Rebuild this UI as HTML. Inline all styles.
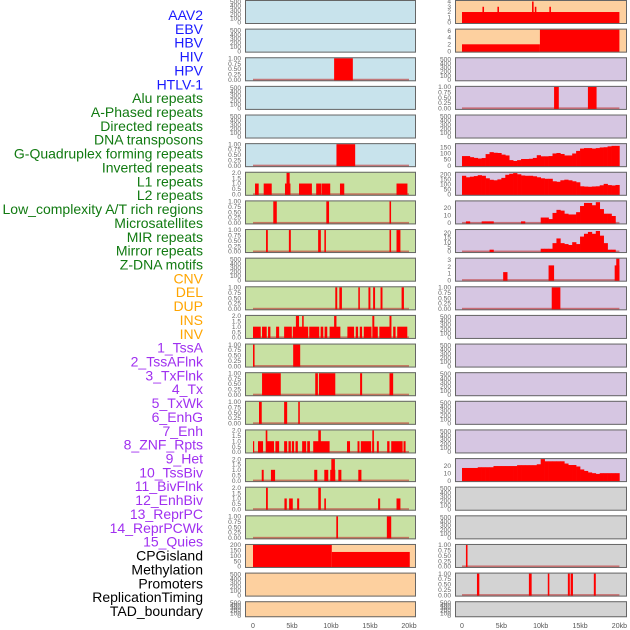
<!DOCTYPE html>
<html><head><meta charset="utf-8">
<style>
html,body{margin:0;padding:0;background:#fff;}
svg{display:block;font-family:"Liberation Sans",sans-serif;}
</style></head>
<body>
<svg id="chart" width="630" height="630" viewBox="0 0 630 630"></svg>
<script>
// ---------- data ----------
const trackLabels = ["AAV2","EBV","HBV","HIV","HPV","HTLV-1","Alu repeats","A-Phased repeats","Directed repeats","DNA transposons","G-Quadruplex forming repeats","Inverted repeats","L1 repeats","L2 repeats","Low_complexity A/T rich regions","Microsatellites","MIR repeats","Mirror repeats","Z-DNA motifs","CNV","DEL","DUP","INS","INV","1_TssA","2_TssAFlnk","3_TxFlnk","4_Tx","5_TxWk","6_EnhG","7_Enh","8_ZNF_Rpts","9_Het","10_TssBiv","11_BivFlnk","12_EnhBiv","13_ReprPC","14_ReprPCWk","15_Quies","CPGisland","Methylation","Promoters","ReplicationTiming","TAD_boundary"];
const labelGroups = [6,13,5,15,5];
const xTickLabels = ["0","5kb","10kb","15kb","20kb"];
const xTickValues = [0,5,10,15,20];

// left column segments [startKb, endKb, value]
const L3 = [[10.4,12.8,1]];
const L6 = [[10.7,13.1,1]];
const L7 = [[0.26,0.73,1],[1.37,2.4,1],[4.1,4.8,1],[4.3,4.7,2],[5.9,7.55,1],[8.1,8.75,1],[8.8,9.9,1],[11.15,11.7,1],[18.4,19.8,1]];
const L8 = [[2.6,3.05,1],[9.4,9.75,1],[17.5,17.7,1]];
const L9 = [[1.67,1.9,1],[4.6,4.85,1],[8.35,8.7,1],[9.15,9.35,1],[17.5,17.7,1],[18.4,18.9,1]];
const L11 = [[10.55,10.8,1],[11.07,11.4,1],[13.5,13.7,1],[14.8,15.05,1],[15.4,15.65,1],[16.35,16.6,1],[19.05,19.35,1]];
const L12 = [[0,0.99,1],[1.16,1.76,1],[1.93,2.23,1],[2.96,3.35,1],[3.99,4.98,1],[5.1,7.08,1],[7.21,8.49,1],[8.67,9.01,1],[9.18,9.52,1],[9.82,11.2,1],[12.1,12.96,1],[13.17,13.47,1],[13.69,13.99,1],[14.2,15.19,1],[15.36,16.0,1],[16.2,17.63,1],[17.97,18.28,1],[18.49,19.78,1],[5.5,5.9,2],[6.3,6.5,2],[10.4,10.7,2],[15.3,15.55,2],[17.5,17.75,2]];
const L13 = [[0,0.2,1],[5.15,6.05,1]];
const L14 = [[1.16,3.56,1],[7.98,8.32,1],[8.45,10.55,1],[13.73,13.99,1],[17.5,17.97,1]];
const L15 = [[0.77,1.12,1],[3.99,4.38,1],[5.8,6.0,1]];
const L16 = [[0,0.13,1],[0.64,1.29,1],[1.67,2.7,1],[2.87,3.35,1],[3.99,4.38,1],[4.55,4.85,1],[4.98,5.27,1],[5.45,5.75,1],[6.3,6.82,1],[6.95,7.3,1],[7.72,9.82,1],[12.05,12.44,1],[13.4,13.65,1],[13.82,15.15,1],[15.28,15.53,1],[15.88,16.13,1],[17.2,17.5,1],[17.72,19.18,1],[19.3,19.56,1],[1.63,1.84,2],[8.37,8.7,2],[15.3,15.5,2]];
const L17 = [[1.12,1.37,1],[2.3,2.83,1],[7.85,8.24,1],[9.14,9.65,1],[9.9,10.55,1],[10.94,11.33,1],[13.5,13.9,1],[10.04,10.5,2]];
const L18 = [[1.67,1.9,2],[8.37,8.7,2],[4.03,4.33,1],[4.63,5.1,1],[5.66,5.92,1],[9.14,9.35,1],[16.04,16.3,1],[18.4,18.9,1]];
const L19 = [[10.68,10.9,1],[17.16,17.72,1]];
const L20 = [[0,10.1,200],[10.1,20.1,135]];

// right column segments
const R1 = [[0,20,2],[2.6,2.8,3],[4.5,4.7,3],[9.25,9.45,3],[11.1,11.3,3],[8.9,9.1,4]];
const R2 = [[0,9.9,2],[9.9,20,6.3]];
const R4 = [[11.7,12.3,1],[16.0,17.1,1]];
const R10 = [[5.23,5.78,1.2],[11.0,11.7,2.2],[19.4,20.0,2.2],[19.6,20.0,3.2]];
const R11 = [[11.4,12.5,1]];
const R20 = [[0.5,0.7,1]];
const R21 = [[1.9,2.2,1],[8.5,8.85,1],[10.9,11.1,1],[13.45,13.7,1],[13.8,14.1,1],[16.75,17.0,1]];

// right column profiles (0.5 kb bins)
const R6 = [78,78,69,63,58,62,94,110,105,103,90,83,45,38,45,54,54,56,63,85,76,76,78,99,103,95,83,83,99,120,139,143,143,139,143,148,150,157,161,161];
const R7 = [185,170,176,182,191,185,160,145,140,149,164,195,205,212,200,188,185,185,180,170,160,155,155,130,125,140,146,140,130,120,80,77,75,78,80,90,104,92,88,93];
const R8 = [0,2,0,0,0,2,2,2,0,0,0,0,0,0,0,2,0,0,0,0,7,7,5,13,17,16,12,11,11,14,22,26,26,23,27,18,12,12,9,0];
const R9 = [0,0,0,0,0,0,0,2,0,0,0,0,0,0,0,0,0,0,0,0,3,3,3,9,14,9,8,7,10,8,16,19,21,19,22,17,9,2,2,0];
const R16 = [17,17,17,17,18,18,18,18,19.6,19.6,19.6,19.6,19.6,19.6,20.8,20.8,20.8,20.8,20.8,22,29,26,26,26,26,26,23,21,21,19,15,13,11,10,9,10,10,10,10,10];

// y tick label sets
const T500 = ["0","100","200","300","400","500"];
const T1 = ["0.00","0.25","0.50","0.75","1.00"];
const T2 = ["0.0","0.5","1.0","1.5","2.0"];

// ---------- layout ----------
const svg = document.getElementById('chart');
const NS = "http://www.w3.org/2000/svg";
function mk(tag, attrs){const e=document.createElementNS(NS,tag);for(const k in attrs)e.setAttribute(k,attrs[k]);return e;}
const labelColors = ["#1a1aff","#117a11","#ffa500","#a030f0","#000000"];
let li=0;
labelGroups.forEach((n,g)=>{for(let i=0;i<n;i++){
  const t=mk('text',{x:203,y:20+li*13.86,'text-anchor':'end','font-size':'14',fill:labelColors[g]});
  t.textContent=trackLabels[li];
  
  
  svg.appendChild(t);li++;}});

const C = {blue:"#c8e3ec",green:"#c8e1a3",orange:"#fdd09f",purple:"#d6c6e2",gray:"#d3d3d3"};
// panel config: [column, row, color, lo, hi, tickLabels, segments, profile, baseline]
const panels = [
 ['L',0,C.blue,0,520,T500,null,null,false],['L',1,C.blue,0,520,T500,null,null,false],
 ['L',2,C.blue,0,1,T1,L3,null,true],['L',3,C.blue,0,520,T500,null,null,false],
 ['L',4,C.blue,0,520,T500,null,null,false],['L',5,C.blue,0,1,T1,L6,null,true],
 ['L',6,C.green,0,2,T2,L7,null,true],['L',7,C.green,0,1,T1,L8,null,true],
 ['L',8,C.green,0,1,T1,L9,null,true],['L',9,C.green,0,520,T500,null,null,false],
 ['L',10,C.green,0,1,T1,L11,null,true],['L',11,C.green,0,2,T2,L12,null,true],
 ['L',12,C.green,0,1,T1,L13,null,true],['L',13,C.green,0,1,T1,L14,null,true],
 ['L',14,C.green,0,1,T1,L15,null,true],['L',15,C.green,0,2,T2,L16,null,true],
 ['L',16,C.green,0,2,T2,L17,null,true],['L',17,C.green,0,2,T2,L18,null,true],
 ['L',18,C.green,0,1,T1,L19,null,true],['L',19,C.orange,0,200,["0","50","100","150","200"],L20,null,false],
 ['L',20,C.orange,0,520,T500,null,null,false],['L',21,C.orange,0,520,T500,null,null,false],
 ['R',0,C.orange,0,4.1,["0","1","2","3","4"],R1,null,false],['R',1,C.orange,0,6.3,["0","2","4","6"],R2,null,false],
 ['R',2,C.purple,0,520,T500,null,null,false],['R',3,C.purple,0,1,T1,R4,null,true],
 ['R',4,C.purple,0,520,T500,null,null,false],['R',5,C.purple,0,175,["0","50","100","150"],null,R6,false],
 ['R',6,C.purple,0,215,["0","50","100","150","200"],null,R7,false],['R',7,C.purple,0,28,["0","10","20"],null,R8,true],
 ['R',8,C.purple,0,23,["0","5","10","15","20"],null,R9,true],['R',9,C.purple,0,3.2,["0","1","2","3"],R10,null,true],
 ['R',10,C.purple,0,1,T1,R11,null,true],['R',11,C.purple,0,520,T500,null,null,false],
 ['R',12,C.purple,0,520,T500,null,null,false],['R',13,C.purple,0,520,T500,null,null,false],
 ['R',14,C.purple,0,520,T500,null,null,false],['R',15,C.purple,0,520,T500,null,null,false],
 ['R',16,C.purple,0,29,["0","10","20"],null,R16,false],['R',17,C.gray,0,520,T500,null,null,false],
 ['R',18,C.gray,0,520,T500,null,null,false],['R',19,C.gray,0,1,T1,R20,null,true],
 ['R',20,C.gray,0,1,T1,R21,null,true],['R',21,C.gray,0,520,T500,null,null,false]
];
function xScale(col,kb){return col==='L'?253+kb*7.8:462+kb*7.87;}
panels.forEach(p=>{
  const [col,row,color,lo,hi,tl,segs,prof,base]=p;
  const px=col==='L'?245:455, pw=col==='L'?171:172;
  const top=row*28.63, ph=row===21?16:24;
  const g=mk('g',{});
  
  
  svg.appendChild(g);
  g.appendChild(mk('rect',{x:px,y:top,width:pw,height:ph,fill:color}));
  const y0=top+ph-1.5, yh=ph-2.5;
  const ys=v=>y0-(v-lo)/(hi-lo)*yh;
  if(base){
    const b=mk('rect',{x:xScale(col,0),y:y0-1,width:xScale(col,20)-xScale(col,0),height:2,fill:'#c0302f',opacity:0.6});
    
    
    g.appendChild(b);
  }
  if(segs) segs.forEach(s=>{
    const x1=xScale(col,s[0]),x2=xScale(col,s[1]),yt=Math.max(top,ys(s[2]));
    const r=mk('rect',{x:x1,y:yt,width:Math.max(1.2,x2-x1),height:y0-yt+1,fill:'#ff0000'});
    
    
    g.appendChild(r);
  });
  if(prof) prof.forEach((v,i)=>{
    if(v<=0)return;
    const x1=xScale(col,i*0.5),x2=xScale(col,(i+1)*0.5),yt=Math.max(top,ys(v));
    const r=mk('rect',{x:x1,y:yt,width:x2-x1+0.3,height:y0-yt+1,fill:'#ff0000'});
    
    
    g.appendChild(r);
  });
  g.appendChild(mk('rect',{x:px+0.5,y:top+0.5,width:pw-1,height:ph-1,fill:'none',stroke:'#666',"stroke-width":1}));
  const tx=col==='L'?241:451;
  tl.forEach(t=>{
    const v=Number(t);
    const te=mk('text',{x:tx,y:ys(v)+2.2,'text-anchor':'end','font-size':'6.6',fill:'#666'});
    te.textContent=t;
    
    
    g.appendChild(te);
  });
});
['L','R'].forEach(col=>{
  xTickValues.forEach((v,i)=>{
    const te=mk('text',{x:xScale(col,v),y:628,'text-anchor':'middle','font-size':'7',fill:'#555'});
    te.textContent=xTickLabels[i];
    
    
    svg.appendChild(te);
  });
});
</script>
</body></html>
